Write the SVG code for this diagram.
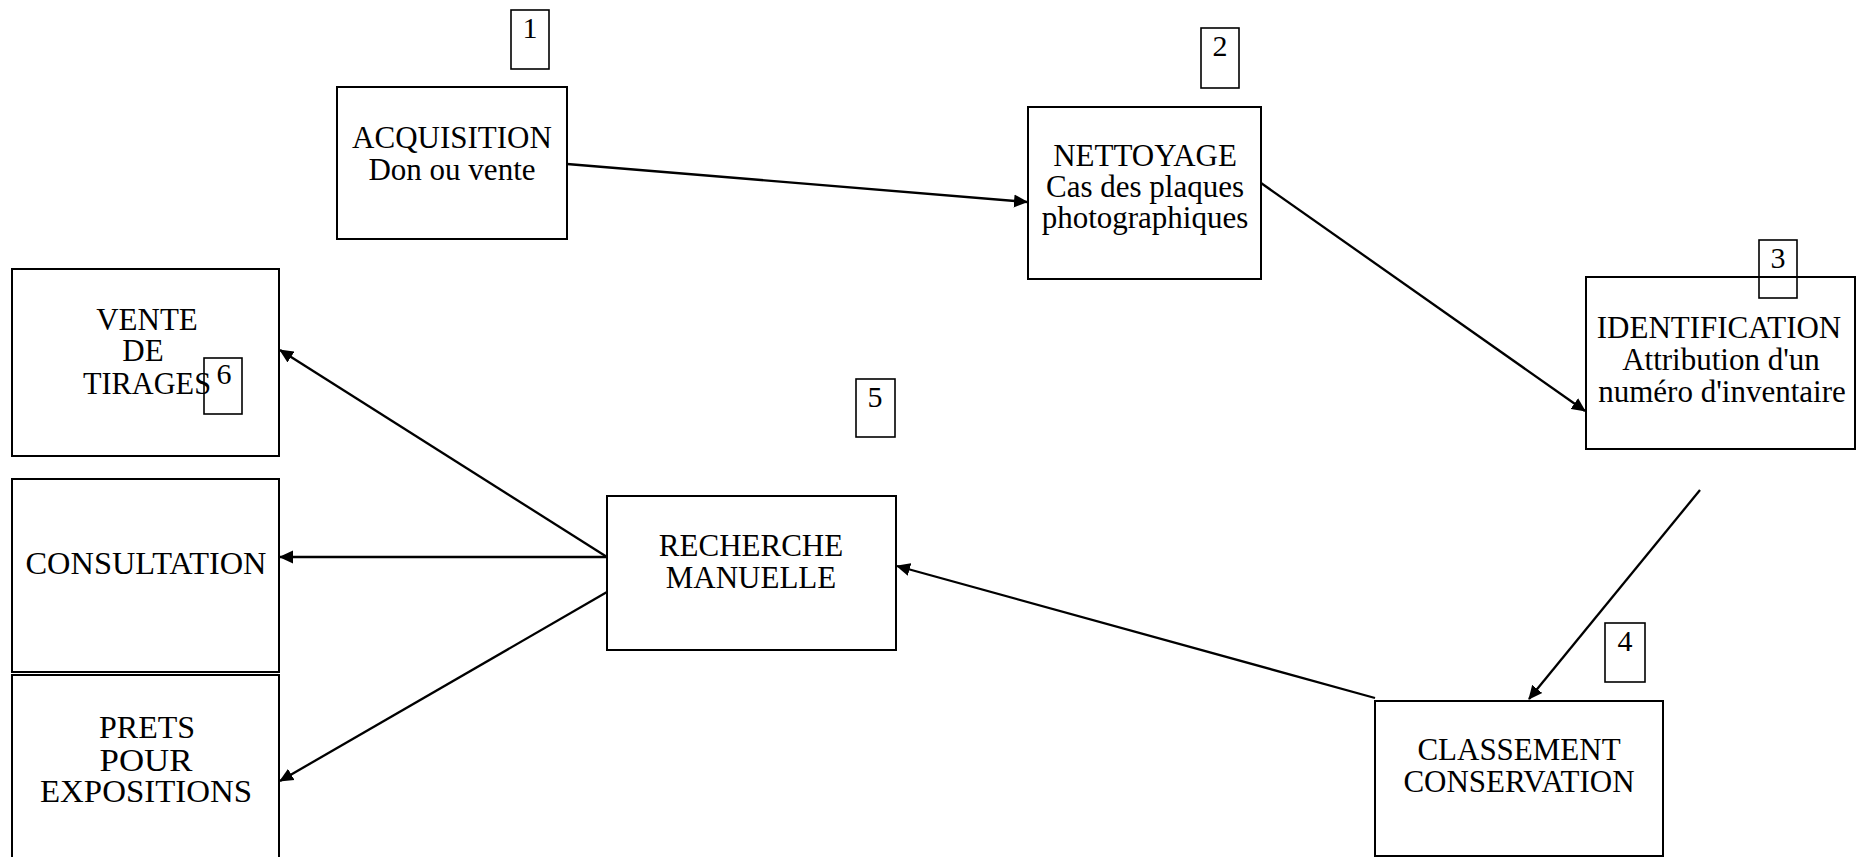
<svg xmlns="http://www.w3.org/2000/svg" width="1856" height="857" viewBox="0 0 1856 857">
<style>
.box{fill:#fff;stroke:#000;stroke-width:2}
.lab{fill:none;stroke:#000;stroke-width:1.6}
.t{font-family:"Liberation Serif","Times New Roman",serif;font-size:31px;fill:#000;text-anchor:middle}
.n{font-family:"Liberation Serif","Times New Roman",serif;font-size:30px;fill:#000;text-anchor:middle}
.c{stroke:#000;stroke-width:2.3;fill:none;marker-end:url(#ah)}
</style>
<defs>
<marker id="ah" markerUnits="userSpaceOnUse" markerWidth="16" markerHeight="14" refX="13" refY="7" orient="auto">
<path d="M0,0.5 L14,7 L0,13.5 Z" fill="#000"/>
</marker>
</defs>
<rect width="1856" height="857" fill="#fff"/>
<g id="connectors">
<line class="c" x1="567" y1="164" x2="1027" y2="202"/>
<line class="c" x1="1261" y1="183" x2="1585" y2="411"/>
<line class="c" x1="1700" y1="490" x2="1529" y2="699"/>
<line class="c" x1="1375" y1="698" x2="897" y2="566"/>
<line class="c" x1="607" y1="557" x2="280" y2="350"/>
<line class="c" x1="607" y1="557" x2="280" y2="557"/>
<line class="c" x1="607" y1="592" x2="280" y2="781"/>
</g>
<g id="acquisition">
<rect class="box" x="337" y="87" width="230" height="152"/>
<text class="t" x="452" y="148">ACQUISITION</text>
<text class="t" x="452" y="180">Don ou vente</text>
</g>
<g id="label1">
<rect class="lab" x="511" y="10" width="38" height="59"/>
<text class="n" x="530" y="38">1</text>
</g>
<g id="nettoyage">
<rect class="box" x="1028" y="107" width="233" height="172"/>
<text class="t" x="1145" y="166">NETTOYAGE</text>
<text class="t" x="1145" y="197">Cas des plaques</text>
<text class="t" x="1145" y="228">photographiques</text>
</g>
<g id="label2">
<rect class="lab" x="1201" y="28" width="38" height="60"/>
<text class="n" x="1220" y="56">2</text>
</g>
<g id="identification">
<rect class="box" x="1586" y="277" width="269" height="172"/>
<text class="t" x="1719" y="338">IDENTIFICATION</text>
<text class="t" x="1721" y="370">Attribution d'un</text>
<text class="t" x="1722" y="402">numéro d'inventaire</text>
</g>
<g id="label3">
<rect class="lab" x="1759" y="240" width="38" height="58"/>
<text class="n" x="1778" y="268">3</text>
</g>
<g id="classement">
<rect class="box" x="1375" y="701" width="288" height="155"/>
<text class="t" x="1519" y="760">CLASSEMENT</text>
<text class="t" x="1519" y="792">CONSERVATION</text>
</g>
<g id="label4">
<rect class="lab" x="1605" y="623" width="40" height="59"/>
<text class="n" x="1625" y="651">4</text>
</g>
<g id="recherche">
<rect class="box" x="607" y="496" width="289" height="154"/>
<text class="t" x="751" y="556">RECHERCHE</text>
<text class="t" x="751" y="588">MANUELLE</text>
</g>
<g id="label5">
<rect class="lab" x="856" y="379" width="39" height="58"/>
<text class="n" x="875" y="407">5</text>
</g>
<g id="vente">
<rect class="box" x="12" y="269" width="267" height="187"/>
<text class="t" x="147" y="330">VENTE</text>
<text class="t" x="143" y="361">DE</text>
<text class="t" x="147" y="394" textLength="128" lengthAdjust="spacingAndGlyphs">TIRAGES</text>
</g>
<g id="label6">
<rect class="lab" x="204" y="358" width="38" height="56"/>
<text class="n" x="224" y="384">6</text>
</g>
<g id="consultation">
<rect class="box" x="12" y="479" width="267" height="193"/>
<text class="t" x="146" y="574" textLength="241" lengthAdjust="spacingAndGlyphs">CONSULTATION</text>
</g>
<g id="prets">
<rect class="box" x="12" y="675" width="267" height="200"/>
<text class="t" x="147" y="738" textLength="96" lengthAdjust="spacingAndGlyphs">PRETS</text>
<text class="t" x="146" y="771" textLength="93" lengthAdjust="spacingAndGlyphs">POUR</text>
<text class="t" x="146" y="802" textLength="212" lengthAdjust="spacingAndGlyphs">EXPOSITIONS</text>
</g>
</svg>
